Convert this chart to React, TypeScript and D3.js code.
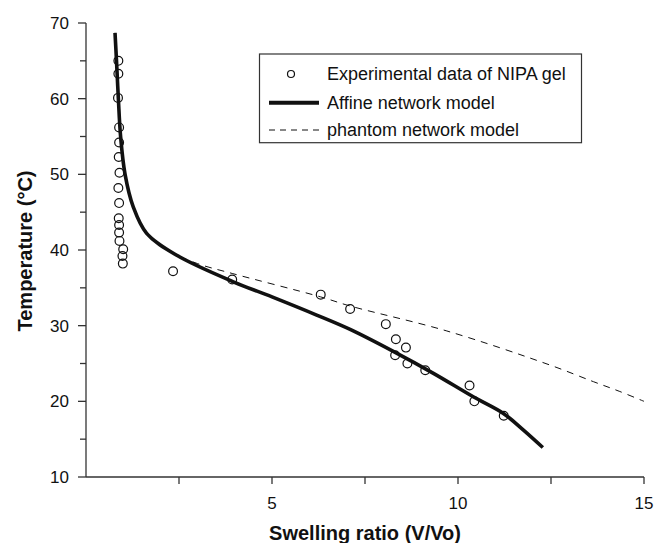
import React from "react";
import * as d3 from "d3";

const W = 658;
const H = 543;

// Experimental data: [swelling ratio, temperature]
const expX = [0.87, 0.87, 0.86, 0.89, 0.89, 0.88, 0.9, 0.87, 0.89, 0.88, 0.89, 0.89, 0.9, 1.0, 0.98, 0.99,
  2.34, 3.93, 6.31, 7.1, 8.06, 8.33, 8.6, 8.31, 8.64, 9.12, 10.31, 10.44, 11.23];
const expT = [65, 63.3, 60.1, 56.2, 54.2, 52.3, 50.2, 48.2, 46.2, 44.2, 43.3, 42.3, 41.2, 40.1, 39.2, 38.2,
  37.2, 36.1, 34.1, 32.2, 30.2, 28.2, 27.1, 26.1, 25.0, 24.1, 22.1, 20.0, 18.1];

// Affine network model curve
const affX = [0.78, 0.82, 0.87, 0.93, 1.05, 1.27, 1.63, 2.44, 3.96, 5.0, 6.2, 7.1, 8.26, 9.34, 10.41, 11.22, 11.76, 12.28];
const affT = [68.7, 65, 60, 55, 50, 45.7, 42.2, 39.3, 35.8, 33.8, 31.4, 29.5, 26.6, 23.7, 20.6, 18.4, 16.2, 13.9];

// Phantom network model curve
const phX = [0.78, 0.82, 0.87, 0.93, 1.05, 1.27, 1.63, 2.26, 3.0, 3.93, 6.31, 7.1, 9.7, 12.47, 13.64, 14.35, 15.0];
const phT = [68.7, 65, 60, 55, 50, 45.7, 42.2, 39.8, 38.2, 36.9, 33.8, 32.6, 29.3, 24.8, 22.6, 21.3, 20.0];

const xMajor = [5, 10, 15];
const xMinor = [2.5, 7.5, 12.5];
const yMajor = [10, 20, 30, 40, 50, 60, 70];
const yMinor = [15, 25, 35, 45, 55, 65];

const legendLabels = ["Experimental data of NIPA gel", "Affine network model", "phantom network model"];

export default function App() {
  const x = d3.scaleLinear().domain([0, 15]).range([86, 644]);
  const y = d3.scaleLinear().domain([10, 70]).range([477, 23]);
  const line = d3
    .line<[number, number]>()
    .x((d) => x(d[0]))
    .y((d) => y(d[1]))
    .curve(d3.curveCatmullRom.alpha(0.5));
  const aff = affX.map((v, i) => [v, affT[i]] as [number, number]);
  const ph = phX.map((v, i) => [v, phT[i]] as [number, number]);
  const font = "'Liberation Sans', Arial, sans-serif";
  const axisColor = "#333";

  const legRows = [74, 102.7, 130];
  return (
    <svg width={W} height={H} style={{ position: "absolute", left: 0, top: 0, background: "#fff" }} fontFamily={font}>
      {/* axes */}
      <line x1={x(0)} x2={x(0)} y1={y(10)} y2={y(70)} stroke={axisColor} strokeWidth={1.3} />
      <line x1={x(0)} x2={x(15)} y1={y(10)} y2={y(10)} stroke={axisColor} strokeWidth={1.3} />
      {yMajor.map((t) => (
        <g key={"ym" + t}>
          <line x1={x(0) - 8} x2={x(0)} y1={y(t)} y2={y(t)} stroke={axisColor} strokeWidth={1.3} />
          <text x={x(0) - 17} y={y(t)} dy="0.35em" textAnchor="end" fontSize={17} fill="#111">{t}</text>
        </g>
      ))}
      {yMinor.map((t) => (
        <line key={"yn" + t} x1={x(0) - 6} x2={x(0)} y1={y(t)} y2={y(t)} stroke={axisColor} strokeWidth={1.3} />
      ))}
      {xMajor.map((t) => (
        <g key={"xm" + t}>
          <line x1={x(t)} x2={x(t)} y1={y(10)} y2={y(10) + 7} stroke={axisColor} strokeWidth={1.3} />
          <text x={x(t)} y={y(10) + 32} textAnchor="middle" fontSize={17} fill="#111">{t}</text>
        </g>
      ))}
      {xMinor.map((t) => (
        <line key={"xn" + t} x1={x(t)} x2={x(t)} y1={y(10)} y2={y(10) + 7} stroke={axisColor} strokeWidth={1.3} />
      ))}
      <text x={(x(0) + x(15)) / 2} y={540} textAnchor="middle" fontSize={20} fontWeight="bold" fill="#111">
        Swelling ratio (V/Vo)
      </text>
      <text transform={`translate(31.5,251) rotate(-90)`} textAnchor="middle" fontSize={20} fontWeight="bold" fill="#111">
        Temperature (°C)
      </text>

      {/* curves */}
      <path d={line(ph) || ""} fill="none" stroke="#111" strokeWidth={1} strokeDasharray="7,6" />
      <path d={line(aff) || ""} fill="none" stroke="#111" strokeWidth={3.6} />
      {expX.map((v, i) => (
        <circle key={"c" + i} cx={x(v)} cy={y(expT[i])} r={4.4} fill="none" stroke="#111" strokeWidth={1.2} />
      ))}

      {/* legend */}
      <rect x={259.5} y={54} width={322} height={88.7} fill="#fff" stroke={axisColor} strokeWidth={1.2} />
      <circle cx={291} cy={legRows[0]} r={3.5} fill="none" stroke="#111" strokeWidth={1.2} />
      <line x1={269} x2={319} y1={legRows[1]} y2={legRows[1]} stroke="#111" strokeWidth={4} />
      <line x1={269} x2={319} y1={legRows[2]} y2={legRows[2]} stroke="#111" strokeWidth={1} strokeDasharray="6,5" />
      {legendLabels.map((l, i) => (
        <text key={l} x={327} y={legRows[i]} dy="0.35em" fontSize={18} fill="#111">{l}</text>
      ))}
    </svg>
  );
}
